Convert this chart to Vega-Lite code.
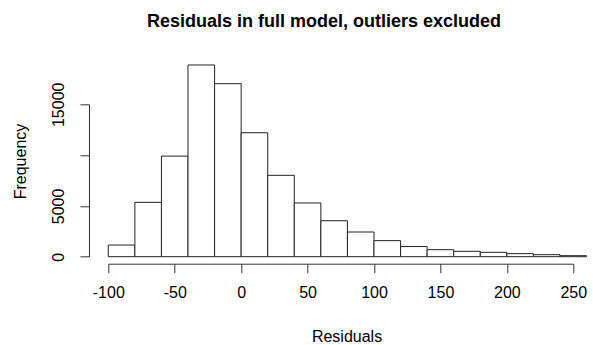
{
  "$schema": "https://vega.github.io/schema/vega-lite/v6.json",
  "autosize": {"type": "none"},
  "width": 465,
  "height": 152.4,
  "padding": {"left": 108.3, "top": 104.3, "right": 19.7, "bottom": 88.3},
  "background": "white",
  "title": {
    "text": "Residuals in full model, outliers excluded",
    "font": "Liberation Sans",
    "fontSize": 18,
    "fontWeight": "bold",
    "color": "#000",
    "anchor": "middle",
    "frame": "group",
    "dx": -16.8,
    "offset": 0,
    "dy": -33
  },
  "data": {
    "values": [
      {"bin_start": -100, "bin_end": -80, "count": 1150},
      {"bin_start": -80, "bin_end": -60, "count": 5350},
      {"bin_start": -60, "bin_end": -40, "count": 9900},
      {"bin_start": -40, "bin_end": -20, "count": 18870},
      {"bin_start": -20, "bin_end": 0, "count": 17030},
      {"bin_start": 0, "bin_end": 20, "count": 12200},
      {"bin_start": 20, "bin_end": 40, "count": 8010},
      {"bin_start": 40, "bin_end": 60, "count": 5290},
      {"bin_start": 60, "bin_end": 80, "count": 3540},
      {"bin_start": 80, "bin_end": 100, "count": 2430},
      {"bin_start": 100, "bin_end": 120, "count": 1580},
      {"bin_start": 120, "bin_end": 140, "count": 1000},
      {"bin_start": 140, "bin_end": 160, "count": 690},
      {"bin_start": 160, "bin_end": 180, "count": 530},
      {"bin_start": 180, "bin_end": 200, "count": 430},
      {"bin_start": 200, "bin_end": 220, "count": 300},
      {"bin_start": 220, "bin_end": 240, "count": 200},
      {"bin_start": 240, "bin_end": 260, "count": 100}
    ]
  },
  "mark": {"type": "rect", "fill": "white", "stroke": "#222", "strokeWidth": 1},
  "encoding": {
    "x": {
      "field": "bin_start",
      "type": "quantitative",
      "scale": {"domain": [-100, 250], "nice": false, "zero": false},
      "axis": {
        "title": "Residuals",
        "values": [-100, -50, 0, 50, 100, 150, 200, 250],
        "labelExpr": "toString(datum.value)",
        "offset": 7,
        "tickSize": 9,
        "labelPadding": 12,
        "grid": false,
        "titleX": 238.2,
        "titleY": 77.3,
        "titleBaseline": "alphabetic",
        "titleAlign": "center",
        "titleAnchor": null
      }
    },
    "x2": {"field": "bin_end"},
    "y": {
      "field": "count",
      "type": "quantitative",
      "scale": {"domain": [0, 15000], "nice": false},
      "axis": {
        "title": "Frequency",
        "values": [0, 5000, 10000, 15000],
        "labelExpr": "datum.value == 10000 ? '' : toString(datum.value)",
        "offset": 19.3,
        "tickSize": 9,
        "labelAngle": -90,
        "labelAlign": "center",
        "labelBaseline": "bottom",
        "labelPadding": 14,
        "grid": false,
        "titleAngle": -90,
        "titleX": -64,
        "titleY": 56.7,
        "titleBaseline": "alphabetic",
        "titleAlign": "center"
      }
    },
    "y2": {"datum": 0}
  },
  "config": {
    "view": {"stroke": null},
    "axis": {
      "labelFont": "Liberation Sans",
      "titleFont": "Liberation Sans",
      "labelFontSize": 16,
      "titleFontSize": 16,
      "titleFontWeight": "normal",
      "labelColor": "#000",
      "titleColor": "#000",
      "domainColor": "#333",
      "tickColor": "#333",
      "domainWidth": 1,
      "tickWidth": 1,
      "labelOverlap": false,
      "labelFlush": false
    }
  }
}
